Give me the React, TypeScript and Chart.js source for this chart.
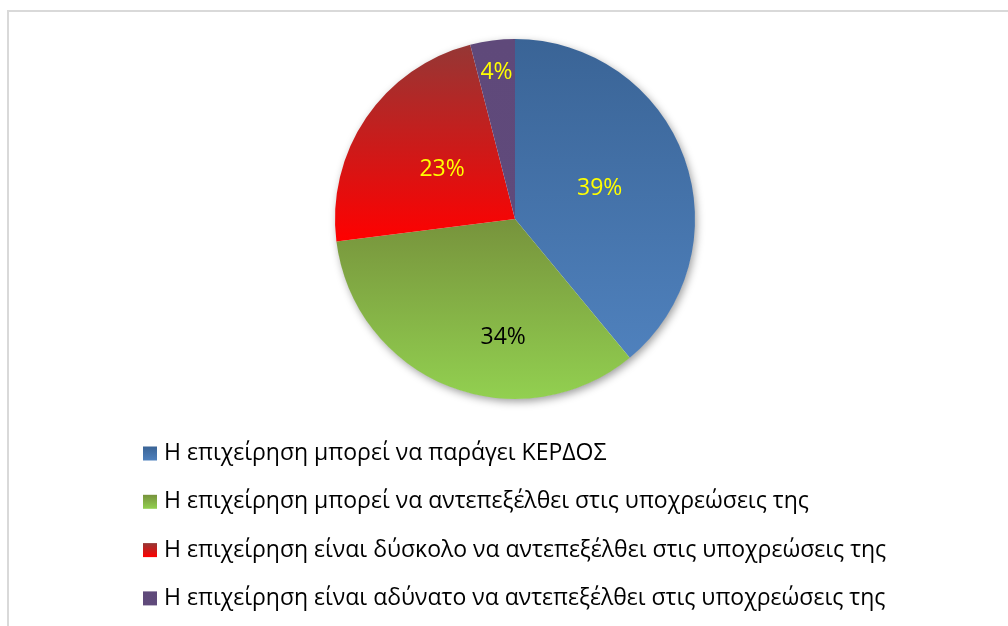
import React, { useEffect, useRef } from "react";
import { Chart, registerables } from "chart.js";

Chart.register(...registerables);

// ---- data ----
const categories = [
  "Η επιχείρηση μπορεί να παράγει ΚΕΡΔΟΣ",
  "Η επιχείρηση μπορεί να αντεπεξέλθει στις υποχρεώσεις της",
  "Η επιχείρηση είναι δύσκολο να αντεπεξέλθει στις υποχρεώσεις της",
  "Η επιχείρηση είναι αδύνατο να αντεπεξέλθει στις υποχρεώσεις της",
];
const shares = [39, 34, 23, 4];
const percentLabels = ["39%", "34%", "23%", "4%"];

// ---- styles ----
const gradientTops = ["#3a6496", "#77933c", "#953735", "#5f497a"];
const gradientBottoms = ["#4f81bd", "#92d050", "#ff0000", "#604a7b"];
const labelColors = ["#ffff00", "#000000", "#ffff00", "#ffff00"];
const labelAngleFrac = [0.5, 0.37, 0.5, 0.5];
const labelRadiusFrac = [0.5, 0.66, 0.49, 0.82];

const FONT = "'Open Sans', 'Noto Sans', sans-serif";

function sliceGradient(ctx: any) {
  const chart = ctx.chart;
  const area = chart.chartArea;
  const i = ctx.dataIndex ?? 0;
  if (!area) return gradientBottoms[i];
  const cx = (area.left + area.right) / 2;
  const cy = (area.top + area.bottom) / 2;
  const r = Math.min(area.width, area.height) / 2;
  const total = shares.reduce((a, b) => a + b, 0);
  let acc = 0;
  for (let j = 0; j < i; j++) acc += shares[j];
  const a0 = -Math.PI / 2 + (acc / total) * Math.PI * 2;
  const a1 = a0 + (shares[i] / total) * Math.PI * 2;
  const ys = [cy, cy + r * Math.sin(a0), cy + r * Math.sin(a1)];
  for (let k = -1; k <= 2; k++) {
    const b = Math.PI / 2 + k * Math.PI * 2;
    if (b >= a0 && b <= a1) ys.push(cy + r);
    const t = -Math.PI / 2 + k * Math.PI * 2;
    if (t >= a0 && t <= a1) ys.push(cy - r);
  }
  void cx;
  const y0 = Math.min(...ys);
  const y1 = Math.max(...ys);
  const g = chart.ctx.createLinearGradient(0, y0, 0, y1);
  g.addColorStop(0, gradientTops[i]);
  g.addColorStop(1, gradientBottoms[i]);
  return g;
}

const framePlugin = {
  id: "frame",
  beforeDraw(chart: any) {
    const c = chart.ctx;
    c.save();
    c.fillStyle = "#ffffff";
    c.fillRect(0, 0, chart.width, chart.height);
    c.fillStyle = "#d9d9d9";
    c.fillRect(7, 10, chart.width, 2);
    c.fillRect(7, 10, 2, chart.height);
    c.restore();
  },
};

const shadowPlugin = {
  id: "pieShadow",
  beforeDatasetsDraw(chart: any) {
    const meta = chart.getDatasetMeta(0);
    const arc = meta.data[0];
    if (!arc) return;
    const c = chart.ctx;
    c.save();
    c.shadowColor = "rgba(0,0,0,0.4)";
    c.shadowBlur = 8;
    c.shadowOffsetX = 2;
    c.shadowOffsetY = 3;
    c.fillStyle = "#ffffff";
    c.beginPath();
    c.arc(arc.x, arc.y, arc.outerRadius - 0.5, 0, Math.PI * 2);
    c.fill();
    c.restore();
  },
};

const labelPlugin = {
  id: "sliceLabels",
  afterDatasetsDraw(chart: any) {
    const meta = chart.getDatasetMeta(0);
    const c = chart.ctx;
    c.save();
    c.font = `23px ${FONT}`;
    c.textAlign = "center";
    c.textBaseline = "middle";
    meta.data.forEach((arc: any, i: number) => {
      const a = arc.startAngle + (arc.endAngle - arc.startAngle) * labelAngleFrac[i];
      const r = arc.outerRadius * labelRadiusFrac[i];
      c.fillStyle = labelColors[i];
      c.fillText(percentLabels[i], arc.x + Math.cos(a) * r, arc.y + Math.sin(a) * r);
    });
    c.restore();
  },
};

const legendPlugin = {
  id: "rowLegend",
  afterDraw(chart: any) {
    const c = chart.ctx;
    const boxX = 143;
    const firstY = 453.5;
    const gap = 48.3;
    const box = 14;
    c.save();
    c.font = `23px ${FONT}`;
    c.textBaseline = "middle";
    c.textAlign = "left";
    chart.data.labels.forEach((lab: string, i: number) => {
      const y = firstY + i * gap;
      const g = c.createLinearGradient(0, y - box / 2, 0, y + box / 2);
      g.addColorStop(0, gradientTops[i]);
      g.addColorStop(1, gradientBottoms[i]);
      c.fillStyle = g;
      c.fillRect(boxX, y - box / 2, box, box);
      c.fillStyle = "#000000";
      c.fillText(lab, boxX + box + 7, y);
    });
    c.restore();
  },
};

export default function App() {
  const ref = useRef<HTMLCanvasElement | null>(null);
  useEffect(() => {
    if (!ref.current) return;
    const chart = new Chart(ref.current, {
      type: "pie",
      data: {
        labels: categories,
        datasets: [
          {
            data: shares,
            backgroundColor: sliceGradient as any,
            borderWidth: 0,
            hoverOffset: 0,
            offset: 0,
          },
        ],
      },
      options: {
        animation: false,
        responsive: false,
        devicePixelRatio: 1,
        layout: { padding: { top: 39, bottom: 227, left: 335, right: 313 } },
        plugins: {
          legend: { display: false },
          tooltip: { enabled: false },
          title: { display: false },
        },
      },
      plugins: [framePlugin, shadowPlugin, labelPlugin, legendPlugin],
    });
    return () => chart.destroy();
  }, []);
  return (
    <div style={{ position: "absolute", left: 0, top: 0, width: 1008, height: 626 }}>
      <canvas ref={ref} width={1008} height={626} style={{ width: 1008, height: 626, display: "block" }} />
    </div>
  );
}
